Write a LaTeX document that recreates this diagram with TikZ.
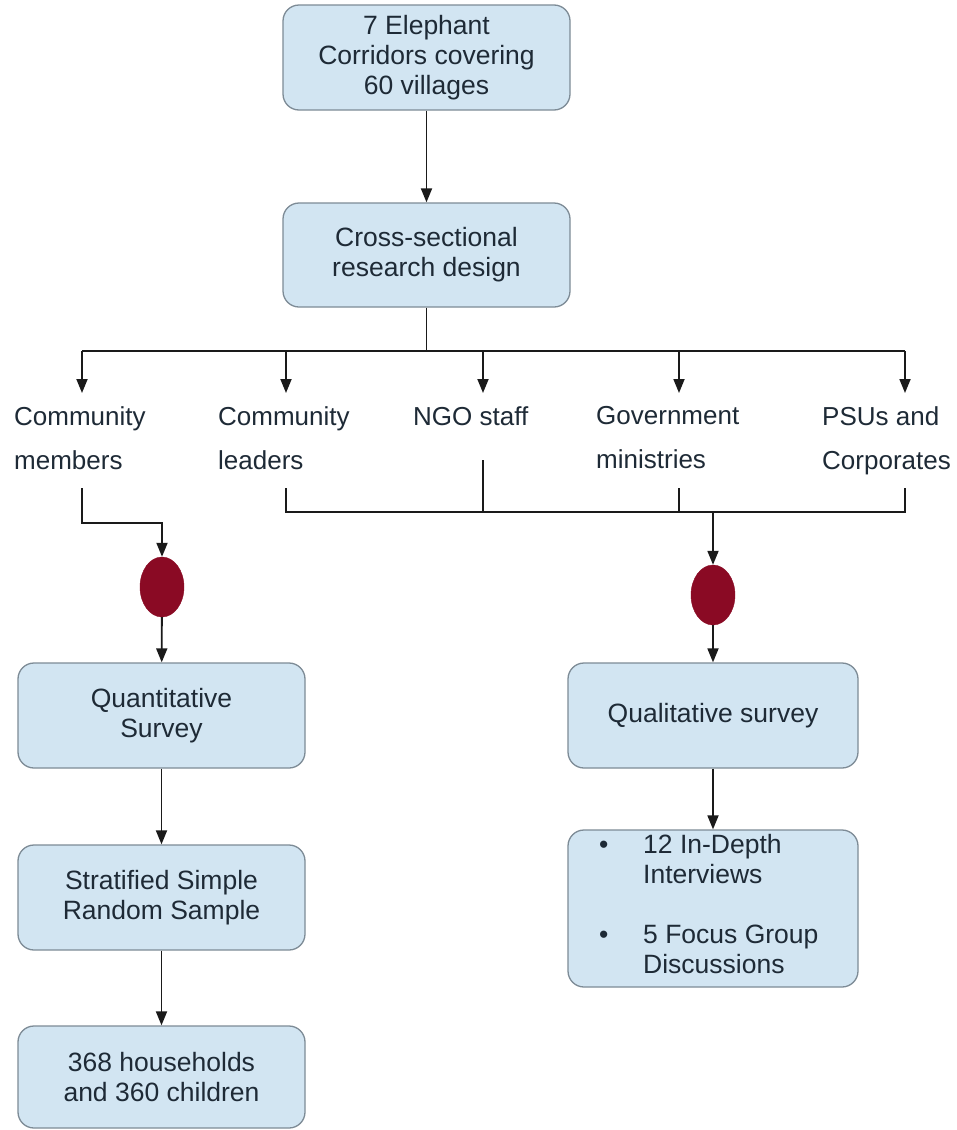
\documentclass[tikz,border=0pt]{standalone}
\usepackage{fontspec}
\setmainfont{Liberation Sans}
\usetikzlibrary{arrows.meta,shapes.geometric}
\definecolor{boxfill}{HTML}{D2E5F2}
\definecolor{boxdraw}{HTML}{7D8B96}
\definecolor{txt}{HTML}{1E2A36}
\definecolor{dot}{HTML}{8A0A24}
\definecolor{ln}{HTML}{1A1A1A}
\tikzset{
  box/.style={draw=boxdraw, line width=1.3pt, fill=boxfill, rounded corners=16pt,
    minimum width=287pt, minimum height=105pt, inner sep=0pt, align=center,
    text=txt, font=\fontsize{26.5}{30}\selectfont},
  lab/.style={anchor=north west, inner sep=0pt, align=left, text=txt,
    font=\fontsize{26}{44}\selectfont},
  blob/.style={ellipse, fill=dot, draw=dot, minimum width=44pt, minimum height=60pt, inner sep=0pt},
  arr/.style={draw=ln, line width=1.8pt, -{Triangle[length=14pt,width=11pt]}},
  con/.style={draw=ln, line width=1.8pt}
}
\begin{document}
\begin{tikzpicture}[x=1pt,y=-1pt]
\useasboundingbox[fill=white] (0,0) rectangle (956,1130);

% boxes
\node[box] (top) at (426.5,57.5) {7 Elephant\\Corridors covering\\60 villages};
\node[box, minimum height=104pt] (cross) at (426.5,255) {Cross-sectional\\research design};
\node[box] (quant) at (161.5,715.5) {Quantitative\\Survey};
\node[box] (strat) at (161.5,897.5) {Stratified Simple\\Random Sample};
\node[box, minimum height=102pt] (hh) at (161.5,1077) {368 households\\and 360 children};
\node[box, minimum width=290pt] (qual) at (713,715.5) {Qualitative survey};
\node[box, minimum width=290pt, minimum height=157pt] (bul) at (713,908.5) {};
\node[anchor=west, inner sep=0pt, text=txt, font=\fontsize{26.5}{30}\selectfont, align=left] (bultext) at (599,907)
  {\begin{tabular}{@{}l@{}l@{}}
   \makebox[44pt][l]{\textbullet} & 12 In-Depth\\
   & Interviews\\[30pt]
   \makebox[44pt][l]{\textbullet} & 5 Focus Group\\
   & Discussions
   \end{tabular}};

% labels
\node[lab] (l1) at (14,406) {Community\\members};
\node[lab] (l2) at (218,406) {Community\\leaders};
\node[lab] (l3) at (413,406) {NGO staff};
\node[lab] (l4) at (596,406) {Government\\ministries};
\node[lab] (l5) at (822,406) {PSUs and\\Corporates};

% ellipses
\node[blob] (e1) at (162,587) {};
\node[blob] (e2) at (713,595) {};

% coordinates
\coordinate (hub) at (426.5,351);
\coordinate (b1) at (82,351);
\coordinate (b2) at (286,351);
\coordinate (b3) at (483,351);
\coordinate (b4) at (679,351);
\coordinate (b5) at (905,351);
\coordinate (a1) at (82,393);
\coordinate (a2) at (286,393);
\coordinate (a3) at (483,393);
\coordinate (a4) at (679,393);
\coordinate (a5) at (905,393);
\coordinate (s1) at (82,488);
\coordinate (j1) at (82,523);
\coordinate (s2) at (286,488);
\coordinate (s3) at (483,460);
\coordinate (s4) at (679,488);
\coordinate (s5) at (905,488);
\coordinate (k2) at (286,512);
\coordinate (k3) at (483,512);
\coordinate (k4) at (679,512);
\coordinate (k5) at (905,512);
\coordinate (kc) at (713,512);

% connectors
\draw[arr] (top) -- (cross);
\draw[con] (cross.south) -- (hub);
\draw[con] (b1) -- (b5);
\draw[arr] (b1) -- (a1);
\draw[arr] (b2) -- (a2);
\draw[arr] (b3) -- (a3);
\draw[arr] (b4) -- (a4);
\draw[arr] (b5) -- (a5);

\draw[arr] (s1) -- (j1) -| (e1.north);
\draw[con] (s2) -- (k2) -- (k5) -- (s5);
\draw[con] (s3) -- (k3);
\draw[con] (s4) -- (k4);
\draw[arr] (kc) -- (e2.north);

\draw[arr] (e1) -- (quant);
\draw[arr] (e2) -- (qual);
\draw[arr] (quant) -- (strat);
\draw[arr] (strat) -- (hh);
\draw[arr] (qual) -- (bul);
\end{tikzpicture}
\end{document}
